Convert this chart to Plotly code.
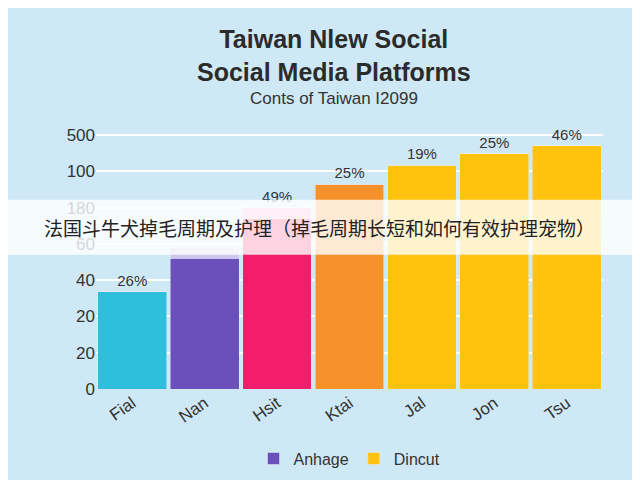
import plotly.graph_objects as go

categories = ["Fial", "Nan", "Hsit", "Ktai", "Jal", "Jon", "Tsu"]
values = [53.6, 72, 93.9, 112.8, 123.5, 129.6, 134.2]
caps = [0, 6.1, 6.1, 0, 0, 0, 0]
labels = ["26%", "", "49%", "25%", "19%", "25%", "46%"]
colors = ["#2FBEDC", "#6B4FBB", "#F21E6B", "#F7922B", "#FFC20E", "#FFC20E", "#FFC20E"]
cap_colors = ["#2FBEDC", "#D3C6EC", "#F9B3CF", "#F7922B", "#FFC20E", "#FFC20E", "#FFC20E"]
tick_vals = [0, 20, 40, 60, 80, 100, 120, 140]
tick_text = ["0", "20", "20", "40", "60", "180", "100", "500"]

fig = go.Figure()
fig.add_trace(go.Bar(x=categories, y=values, marker_color=colors, showlegend=False))
fig.add_trace(go.Bar(x=categories, y=caps, marker_color=cap_colors, showlegend=False,
                     text=labels, textposition="outside", cliponaxis=False,
                     textfont=dict(size=15, color="#333")))
# legend entries
fig.add_trace(go.Bar(x=[None], y=[None], name="Anhage", marker_color="#6B4FBB"))
fig.add_trace(go.Bar(x=[None], y=[None], name="Dincut", marker_color="#FFC20E"))

fig.update_layout(
    width=640, height=480, barmode="stack", bargap=0.05,
    paper_bgcolor="#CFE8F5", plot_bgcolor="#CFE8F5",
    font=dict(family="Liberation Sans", color="#333"),
    margin=dict(l=88, r=45, t=118, b=58),
    xaxis=dict(tickangle=-35, tickfont=dict(size=17), showgrid=False),
    yaxis=dict(range=[0, 145], tickvals=tick_vals, ticktext=tick_text,
               tickfont=dict(size=17), gridcolor="white", gridwidth=2, zeroline=False),
    legend=dict(orientation="h", traceorder="normal", x=0.5, xanchor="center",
                y=-0.2, yanchor="top", font=dict(size=16)),
)
fig.add_annotation(text="<b>Taiwan Nlew Social<br>Social Media Platforms</b>", xref="paper", yref="paper",
                   x=0.47, y=1.39, yanchor="top", showarrow=False,
                   font=dict(size=25, color="#2b2b2b"))
fig.add_annotation(text="Conts of Taiwan I2099", xref="paper", yref="paper", x=0.47, y=1.15,
                   showarrow=False, font=dict(size=17, color="#333"))
fig.add_shape(type="rect", xref="paper", yref="paper", x0=-0.2, x1=1.1, y0=0.51, y1=0.72,
              fillcolor="rgba(255,255,255,0.8)", line_width=0)
fig.add_annotation(text="法国斗牛犬掉毛周期及护理（掉毛周期长短和如何有效护理宠物）", xref="paper", yref="paper",
                   x=0.44, y=0.615, showarrow=False,
                   font=dict(size=19, color="#222", family="Noto Sans CJK SC"))
fig.write_html("out.html")
